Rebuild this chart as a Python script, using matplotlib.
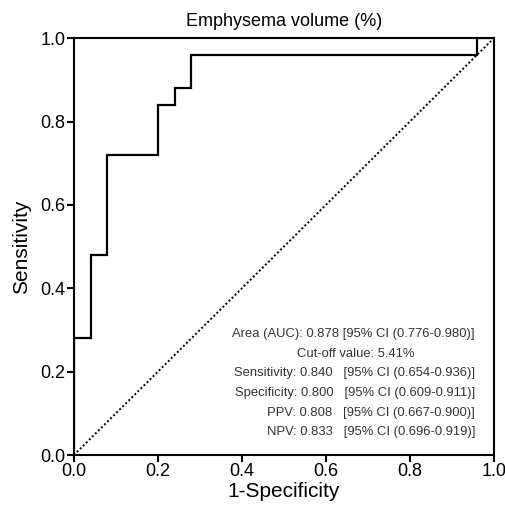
import numpy as np
import matplotlib.pyplot as plt

plt.rcParams['font.family'] = ['Liberation Sans', 'DejaVu Sans']

# ROC step points (1-specificity, sensitivity)
fpr = [0.0, 0.0, 0.04, 0.04, 0.08, 0.08, 0.20, 0.20, 0.24, 0.24, 0.28, 0.28, 0.96, 0.96, 1.0]
tpr = [0.0, 0.28, 0.28, 0.48, 0.48, 0.72, 0.72, 0.84, 0.84, 0.88, 0.88, 0.96, 0.96, 1.0, 1.0]

stat_lines = [
    "Area (AUC): 0.878 [95% CI (0.776-0.980)]",
    "Cut-off value: 5.41%",
    "Sensitivity: 0.840   [95% CI (0.654-0.936)]",
    "Specificity: 0.800   [95% CI (0.609-0.911)]",
    "PPV: 0.808   [95% CI (0.667-0.900)]",
    "NPV: 0.833   [95% CI (0.696-0.919)]",
]
ticks = [0.0, 0.2, 0.4, 0.6, 0.8, 1.0]

fig = plt.figure(figsize=(5.06, 5.09), dpi=100)
ax = fig.add_axes([0.146, 0.106, 0.830, 0.819])

ax.plot([0, 1], [0, 1], color="black", linestyle=(0, (1, 1.2)), linewidth=1.4)
ax.plot(fpr, tpr, color="black", linewidth=1.6, solid_joinstyle="miter")

ax.set_xlim(0, 1)
ax.set_ylim(0, 1)
ax.set_xticks(ticks)
ax.set_yticks(ticks)
ax.set_xticklabels([f"{t:.1f}" for t in ticks])
ax.set_yticklabels([f"{t:.1f}" for t in ticks])
ax.tick_params(direction="out", length=5, width=1.5, labelsize=13, pad=1)
for s in ax.spines.values():
    s.set_linewidth(1.5)

ax.set_xlabel("1-Specificity", fontsize=15, labelpad=1)
ax.set_ylabel("Sensitivity", fontsize=15, labelpad=7)
ax.set_title("Emphysema volume (%)", fontsize=13, pad=9)

stat_font = dict(fontsize=9.4, color="#333333")
y0 = 0.29
dy = 0.047
for i, line in enumerate(stat_lines):
    y = y0 - i * dy
    if i == 1:
        ax.text(0.672, y, line, ha="center", va="center", transform=ax.transAxes, **stat_font)
    else:
        ax.text(0.955, y, line, ha="right", va="center", transform=ax.transAxes, **stat_font)

fig.savefig("out.png", dpi=100)
